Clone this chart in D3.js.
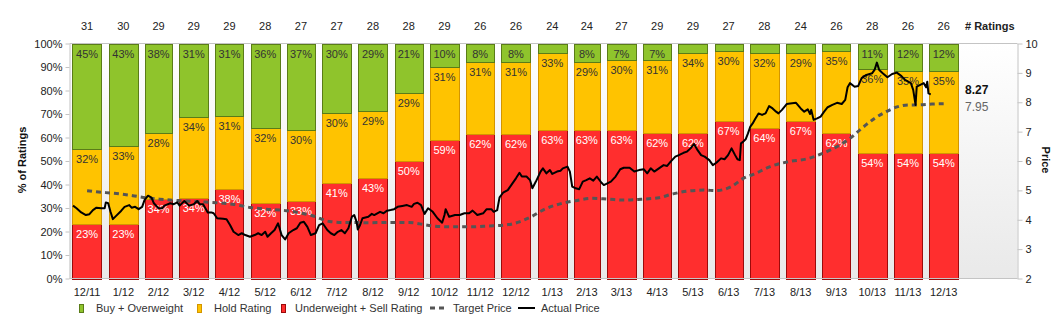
<!DOCTYPE html>
<html lang="en">
<head>
  <meta charset="utf-8">
  <title>Ratings and Price</title>
  <script src="https://d3js.org/d3.v7.min.js"></script>
  <style>
    body { margin: 0; background: #fff; }
    svg text { font-family: "Liberation Sans", Arial, sans-serif; }
  </style>
</head>
<body>
<script>
  // monthly rating breakdown
  var months = ["2011-12", "2012-01", "2012-02", "2012-03", "2012-04", "2012-05", "2012-06", "2012-07",
    "2012-08", "2012-09", "2012-10", "2012-11", "2012-12", "2013-01", "2013-02", "2013-03", "2013-04",
    "2013-05", "2013-06", "2013-07", "2013-08", "2013-09", "2013-10", "2013-11", "2013-12"];
  var monthLabels = ["12/11", "1/12", "2/12", "3/12", "4/12", "5/12", "6/12", "7/12", "8/12", "9/12",
    "10/12", "11/12", "12/12", "1/13", "2/13", "3/13", "4/13", "5/13", "6/13", "7/13", "8/13", "9/13",
    "10/13", "11/13", "12/13"];
  var ratingCounts = [31, 30, 29, 29, 29, 28, 27, 27, 28, 28, 29, 26, 26, 24, 24, 27, 29, 29, 27, 28, 24, 26, 28, 26, 26];
  var buyPct   = [45, 43, 38, 31, 31, 36, 37, 30, 29, 21, 10, 8, 8, 4, 8, 7, 7, 4, 3, 4, 4, 3, 11, 12, 12];
  var holdPct  = [32, 33, 28, 34, 31, 32, 30, 30, 29, 29, 31, 31, 31, 33, 29, 30, 31, 34, 30, 32, 29, 35, 36, 35, 35];
  var underPct = [23, 23, 34, 34, 38, 32, 33, 41, 43, 50, 59, 62, 62, 63, 63, 63, 62, 62, 67, 64, 67, 62, 54, 54, 54];

  // consensus target price
  var targetPrice = [
    ["2011-12-13", 4.99], ["2011-12-21", 4.95], ["2012-01-05", 4.90], ["2012-01-21", 4.82], ["2012-01-30", 4.76],
    ["2012-02-13", 4.70], ["2012-03-01", 4.65], ["2012-03-18", 4.61], ["2012-04-01", 4.58], ["2012-04-15", 4.53],
    ["2012-04-30", 4.42], ["2012-05-14", 4.36], ["2012-05-31", 4.31], ["2012-06-11", 4.24], ["2012-06-23", 4.13],
    ["2012-07-07", 3.94], ["2012-07-18", 3.91], ["2012-07-27", 3.91], ["2012-08-07", 3.90], ["2012-08-30", 3.91],
    ["2012-09-13", 3.91], ["2012-09-22", 3.86], ["2012-10-03", 3.79], ["2012-10-17", 3.76], ["2012-11-03", 3.76],
    ["2012-11-20", 3.79], ["2012-12-04", 3.82], ["2012-12-16", 3.93], ["2012-12-26", 4.10], ["2013-01-05", 4.33],
    ["2013-01-16", 4.50], ["2013-02-02", 4.65], ["2013-02-16", 4.73], ["2013-03-02", 4.70], ["2013-03-16", 4.67],
    ["2013-03-30", 4.70], ["2013-04-14", 4.75], ["2013-04-25", 4.87], ["2013-05-09", 4.98], ["2013-05-24", 5.01],
    ["2013-06-01", 4.99], ["2013-06-15", 5.13], ["2013-06-25", 5.41], ["2013-07-04", 5.55], ["2013-07-18", 5.81],
    ["2013-08-03", 5.98], ["2013-08-20", 6.09], ["2013-08-28", 6.20], ["2013-09-07", 6.37], ["2013-09-24", 6.77],
    ["2013-10-04", 7.11], ["2013-10-15", 7.45], ["2013-10-25", 7.68], ["2013-11-04", 7.85], ["2013-11-13", 7.91],
    ["2013-11-21", 7.91], ["2013-12-03", 7.94], ["2013-12-13", 7.95]
  ];

  // share price (close)
  var actualPrice = [
    ["2011-12-01", 4.48], ["2011-12-04", 4.39], ["2011-12-08", 4.25], ["2011-12-12", 4.16], ["2011-12-15", 4.19],
    ["2011-12-18", 4.33], ["2011-12-21", 4.41], ["2011-12-25", 4.39], ["2011-12-28", 4.39], ["2011-12-29", 4.59],
    ["2011-12-31", 4.56], ["2012-01-02", 4.27], ["2012-01-04", 4.02], ["2012-01-07", 4.14], ["2012-01-11", 4.30],
    ["2012-01-14", 4.44], ["2012-01-18", 4.50], ["2012-01-20", 4.41], ["2012-01-23", 4.44], ["2012-01-26", 4.36],
    ["2012-01-29", 4.44], ["2012-01-31", 4.67], ["2012-02-03", 4.82], ["2012-02-06", 4.75], ["2012-02-08", 4.56],
    ["2012-02-12", 4.39], ["2012-02-15", 4.39], ["2012-02-17", 4.48], ["2012-02-22", 4.56], ["2012-02-25", 4.53],
    ["2012-02-28", 4.59], ["2012-03-01", 4.48], ["2012-03-05", 4.64], ["2012-03-09", 4.48], ["2012-03-13", 4.53],
    ["2012-03-16", 4.64], ["2012-03-18", 4.53], ["2012-03-21", 4.53], ["2012-03-25", 4.25], ["2012-03-28", 4.25],
    ["2012-03-30", 4.22], ["2012-04-02", 4.05], ["2012-04-07", 4.03], ["2012-04-10", 4.02], ["2012-04-13", 3.82],
    ["2012-04-16", 3.59], ["2012-04-20", 3.48], ["2012-04-23", 3.54], ["2012-04-26", 3.48], ["2012-04-30", 3.42],
    ["2012-05-04", 3.48], ["2012-05-07", 3.54], ["2012-05-10", 3.48], ["2012-05-13", 3.59], ["2012-05-15", 3.42],
    ["2012-05-18", 3.54], ["2012-05-21", 3.65], ["2012-05-24", 3.88], ["2012-05-27", 3.48], ["2012-05-30", 3.33],
    ["2012-06-02", 3.54], ["2012-06-06", 3.65], ["2012-06-09", 3.71], ["2012-06-12", 3.90], ["2012-06-15", 3.93],
    ["2012-06-18", 3.76], ["2012-06-21", 3.48], ["2012-06-25", 3.54], ["2012-06-28", 3.82], ["2012-07-01", 3.88],
    ["2012-07-05", 3.65], ["2012-07-08", 3.54], ["2012-07-11", 3.48], ["2012-07-14", 3.59], ["2012-07-17", 3.65],
    ["2012-07-20", 3.54], ["2012-07-23", 3.71], ["2012-07-26", 4.10], ["2012-07-28", 4.16], ["2012-07-30", 3.93],
    ["2012-07-31", 3.67], ["2012-08-02", 3.82], ["2012-08-04", 4.05], ["2012-08-09", 4.10], ["2012-08-12", 4.20],
    ["2012-08-14", 4.16], ["2012-08-19", 4.27], ["2012-08-22", 4.22], ["2012-08-25", 4.31], ["2012-08-28", 4.33],
    ["2012-08-31", 4.36], ["2012-09-03", 4.44], ["2012-09-07", 4.47], ["2012-09-11", 4.50], ["2012-09-15", 4.44],
    ["2012-09-17", 4.54], ["2012-09-20", 4.58], ["2012-09-23", 4.50], ["2012-09-26", 4.20], ["2012-09-29", 4.39],
    ["2012-10-03", 4.27], ["2012-10-07", 4.05], ["2012-10-11", 3.90], ["2012-10-13", 4.16], ["2012-10-14", 4.36],
    ["2012-10-17", 4.10], ["2012-10-22", 4.16], ["2012-10-26", 4.16], ["2012-10-30", 4.22], ["2012-11-03", 4.22],
    ["2012-11-06", 4.31], ["2012-11-10", 4.16], ["2012-11-15", 4.22], ["2012-11-18", 4.36], ["2012-11-22", 4.36],
    ["2012-11-24", 4.27], ["2012-11-27", 4.33], ["2012-11-29", 4.76], ["2012-12-02", 4.92], ["2012-12-06", 5.01],
    ["2012-12-10", 5.24], ["2012-12-13", 5.41], ["2012-12-16", 5.60], ["2012-12-18", 5.47], ["2012-12-22", 5.47],
    ["2012-12-25", 5.35], ["2012-12-27", 5.07], ["2012-12-30", 5.30], ["2013-01-03", 5.64], ["2013-01-05", 5.75],
    ["2013-01-08", 5.58], ["2013-01-11", 5.69], ["2013-01-13", 5.56], ["2013-01-17", 5.64], ["2013-01-20", 5.67],
    ["2013-01-22", 5.75], ["2013-01-26", 5.81], ["2013-01-28", 5.64], ["2013-01-30", 5.13], ["2013-02-02", 5.07],
    ["2013-02-05", 5.04], ["2013-02-08", 5.30], ["2013-02-11", 5.35], ["2013-02-14", 5.41], ["2013-02-17", 5.33],
    ["2013-02-20", 5.47], ["2013-02-24", 5.26], ["2013-02-26", 5.18], ["2013-03-01", 5.24], ["2013-03-04", 5.30],
    ["2013-03-08", 5.47], ["2013-03-12", 5.72], ["2013-03-15", 5.77], ["2013-03-20", 5.77], ["2013-03-24", 5.64],
    ["2013-03-28", 5.69], ["2013-04-01", 5.72], ["2013-04-04", 5.58], ["2013-04-07", 5.75], ["2013-04-10", 5.64],
    ["2013-04-14", 5.75], ["2013-04-18", 5.86], ["2013-04-21", 5.83], ["2013-04-24", 5.98], ["2013-04-28", 6.15],
    ["2013-05-01", 6.20], ["2013-05-05", 6.28], ["2013-05-08", 6.32], ["2013-05-11", 6.43], ["2013-05-14", 6.58],
    ["2013-05-17", 6.37], ["2013-05-20", 6.20], ["2013-05-23", 6.15], ["2013-05-27", 6.03], ["2013-05-30", 5.86],
    ["2013-06-02", 5.94], ["2013-06-06", 6.09], ["2013-06-09", 6.06], ["2013-06-12", 6.20], ["2013-06-15", 6.43],
    ["2013-06-18", 6.20], ["2013-06-20", 6.06], ["2013-06-22", 6.03], ["2013-06-23", 6.60], ["2013-06-25", 6.66],
    ["2013-06-27", 6.74], ["2013-06-29", 6.94], ["2013-07-01", 7.17], ["2013-07-03", 7.28], ["2013-07-05", 7.42],
    ["2013-07-08", 7.62], ["2013-07-11", 7.57], ["2013-07-14", 7.62], ["2013-07-17", 7.87], ["2013-07-20", 7.79],
    ["2013-07-23", 7.68], ["2013-07-25", 7.62], ["2013-07-28", 7.74], ["2013-08-01", 7.94], ["2013-08-04", 7.96],
    ["2013-08-09", 7.98], ["2013-08-13", 7.79], ["2013-08-16", 7.68], ["2013-08-19", 7.76], ["2013-08-21", 7.60],
    ["2013-08-22", 7.74], ["2013-08-24", 7.40], ["2013-08-27", 7.45], ["2013-08-30", 7.51], ["2013-09-02", 7.68],
    ["2013-09-05", 7.83], ["2013-09-09", 7.91], ["2013-09-13", 7.98], ["2013-09-17", 7.94], ["2013-09-20", 8.08],
    ["2013-09-22", 8.51], ["2013-09-24", 8.65], ["2013-09-28", 8.53], ["2013-10-01", 8.55], ["2013-10-04", 8.82],
    ["2013-10-08", 8.93], ["2013-10-13", 8.99], ["2013-10-15", 9.10], ["2013-10-17", 9.35], ["2013-10-19", 9.10],
    ["2013-10-22", 8.99], ["2013-10-26", 8.85], ["2013-10-30", 8.96], ["2013-11-03", 9.01], ["2013-11-07", 8.89],
    ["2013-11-10", 8.76], ["2013-11-15", 8.65], ["2013-11-17", 8.42], ["2013-11-19", 7.91], ["2013-11-20", 8.53],
    ["2013-11-23", 8.59], ["2013-11-26", 8.65], ["2013-11-28", 8.51], ["2013-11-29", 8.70], ["2013-11-30", 8.30],
    ["2013-12-02", 8.27]
  ];

  var pctTicks = [0, 0.1, 0.2, 0.3, 0.4, 0.5, 0.6, 0.7, 0.8, 0.9, 1];
  var priceTicks = [2, 3, 4, 5, 6, 7, 8, 9, 10];

  var W = 1062, H = 329;
  var plotLeft = 69.5, plotRight = 1017.5, plotTop = 43.5, plotBottom = 278.5;

  var parseMonth = d3.timeParse("%Y-%m");
  var parseDay = d3.timeParse("%Y-%m-%d");

  var colors = { buy: "#8fc42c", hold: "#ffc300", under: "#ff2e2e" };
  var strokes = { buy: "#5a7c18", hold: "#d39500", under: "#9c0a0a" };

  var rows = months.map(function (m, i) {
    return {
      date: parseMonth(m), label: monthLabels[i], count: ratingCounts[i],
      under: underPct[i], hold: holdPct[i], buy: buyPct[i]
    };
  });

  var x = d3.scaleTime()
    .domain([parseDay("2011-11-28"), parseDay("2014-02-14")])
    .range([plotLeft, plotRight]);
  var yPct = d3.scaleLinear().domain([0, 1]).range([plotBottom, plotTop]);
  var yPrice = d3.scaleLinear().domain([2, 10]).range([plotBottom, plotTop]);

  var svg = d3.select("body").append("svg")
    .attr("width", W)
    .attr("height", H)
    .style("display", "block");

  var defs = svg.append("defs");
  var grad = defs.append("linearGradient")
    .attr("id", "plotBg")
    .attr("x1", 0).attr("y1", 0).attr("x2", 0).attr("y2", 1);
  grad.append("stop").attr("offset", "0%").attr("stop-color", "#ffffff");
  grad.append("stop").attr("offset", "100%").attr("stop-color", "#e9e9e9");

  svg.append("rect")
    .attr("x", plotLeft).attr("y", plotTop)
    .attr("width", plotRight - plotLeft).attr("height", plotBottom - plotTop)
    .attr("fill", "url(#plotBg)");

  // bar extent: from month start to a few days before the next month
  function barX0(d) { return x(d.date) - 0.6; }
  function barX1(d) { return x(d3.timeDay.offset(d3.timeMonth.offset(d.date, 1), -6)) - 0.6; }
  function barMid(d) { return (barX0(d) + barX1(d)) / 2; }

  var keys = ["under", "hold", "buy"];
  var stacked = d3.stack().keys(keys).offset(d3.stackOffsetExpand)(rows);

  var layers = svg.append("g").selectAll("g")
    .data(stacked)
    .enter().append("g")
    .attr("fill", function (s) { return colors[s.key]; })
    .attr("stroke", function (s) { return strokes[s.key]; });

  layers.selectAll("rect")
    .data(function (s) { return s; })
    .enter().append("rect")
    .attr("x", function (d) { return Math.round(barX0(d.data)) + 0.5; })
    .attr("y", function (d) { return Math.round(yPct(d[1])) + 0.5; })
    .attr("width", function (d) { return Math.round(barX1(d.data) - barX0(d.data)); })
    .attr("height", function (d) { return Math.round(yPct(d[0])) - Math.round(yPct(d[1])); })
    .attr("stroke-width", 1);

  // percentage labels at the top of each segment
  var segLabels = svg.append("g").attr("font-size", "11px").attr("text-anchor", "middle");
  stacked.forEach(function (s) {
    segLabels.selectAll(null)
      .data(s.filter(function (d) { return d.data[s.key] >= 5; }))
      .enter().append("text")
      .attr("x", function (d) { return barMid(d.data); })
      .attr("y", function (d) { return yPct(d[1]) + 14; })
      .attr("fill", s.key === "under" ? "#ffffff" : "#333333")
      .text(function (d) { return d.data[s.key] + "%"; });
  });

  // target price (dashed) and actual price
  var targetLine = d3.line()
    .x(function (d) { return x(parseDay(d[0])); })
    .y(function (d) { return yPrice(d[1]); })
    .curve(d3.curveMonotoneX);

  svg.append("path")
    .datum(targetPrice)
    .attr("d", targetLine)
    .attr("fill", "none")
    .attr("stroke", "#555555")
    .attr("stroke-width", 3)
    .attr("stroke-dasharray", "5,4");

  var priceLine = d3.line()
    .x(function (d) { return x(parseDay(d[0])); })
    .y(function (d) { return yPrice(d[1]); });

  svg.append("path")
    .datum(actualPrice)
    .attr("d", priceLine)
    .attr("fill", "none")
    .attr("stroke", "#000000")
    .attr("stroke-width", 2)
    .attr("stroke-linejoin", "round");

  // last values next to the lines
  var lastPrice = actualPrice[actualPrice.length - 1][1];
  var lastTarget = targetPrice[targetPrice.length - 1][1];
  svg.append("text")
    .attr("x", 965).attr("y", yPrice(lastPrice))
    .attr("font-size", "12px").attr("font-weight", "bold").attr("fill", "#111")
    .text(lastPrice.toFixed(2));
  svg.append("text")
    .attr("x", 965).attr("y", yPrice(lastTarget) + 7)
    .attr("font-size", "12px").attr("fill", "#666")
    .text(lastTarget.toFixed(2));

  // frame and axes
  svg.append("line")
    .attr("x1", plotLeft).attr("x2", plotRight).attr("y1", plotTop).attr("y2", plotTop)
    .attr("stroke", "#c4c4c4");
  svg.append("line")
    .attr("x1", plotLeft).attr("x2", plotRight).attr("y1", plotBottom).attr("y2", plotBottom)
    .attr("stroke", "#c4c4c4");

  var yAxisLeft = svg.append("g")
    .attr("transform", "translate(" + plotLeft + ",0)")
    .call(d3.axisLeft(yPct).tickValues(pctTicks).tickFormat(d3.format(".0%"))
      .tickSize(4).tickSizeOuter(0).tickPadding(3));

  var yAxisRight = svg.append("g")
    .attr("transform", "translate(" + plotRight + ",0)")
    .call(d3.axisRight(yPrice).tickValues(priceTicks).tickFormat(d3.format("d"))
      .tickSize(5).tickSizeOuter(0).tickPadding(3));

  [yAxisLeft, yAxisRight].forEach(function (g) {
    g.select(".domain").attr("stroke", "#c4c4c4");
    g.selectAll(".tick line").attr("stroke", "#c4c4c4");
    g.selectAll(".tick text")
      .attr("fill", "#222")
      .attr("font-size", "11px")
      .attr("font-family", "'Liberation Sans', Arial, sans-serif");
  });

  // month labels under the bars, rating counts above
  svg.append("g").selectAll("text")
    .data(rows)
    .enter().append("text")
    .attr("x", barMid)
    .attr("y", 296)
    .attr("text-anchor", "middle")
    .attr("font-size", "11px")
    .attr("fill", "#222")
    .text(function (d) { return d.label; });

  svg.append("g").selectAll("text")
    .data(rows)
    .enter().append("text")
    .attr("x", barMid)
    .attr("y", 30)
    .attr("text-anchor", "middle")
    .attr("font-size", "11px")
    .attr("fill", "#222")
    .text(function (d) { return d.count; });

  svg.append("text")
    .attr("x", 965).attr("y", 30)
    .attr("font-size", "11px").attr("font-weight", "bold").attr("fill", "#222")
    .text("# Ratings");

  svg.append("text")
    .attr("transform", "translate(26,160) rotate(-90)")
    .attr("text-anchor", "middle")
    .attr("font-size", "11px").attr("font-weight", "bold").attr("fill", "#111")
    .text("% of Ratings");

  svg.append("text")
    .attr("transform", "translate(1042,160) rotate(90)")
    .attr("text-anchor", "middle")
    .attr("font-size", "11px").attr("font-weight", "bold").attr("fill", "#111")
    .text("Price");

  // legend
  var legend = svg.append("g").attr("font-size", "11px").attr("fill", "#333");
  var boxItems = [
    { key: "buy", text: "Buy + Overweight", x: 79, tx: 96 },
    { key: "hold", text: "Hold Rating", x: 197, tx: 214 },
    { key: "under", text: "Underweight + Sell Rating", x: 281, tx: 295 }
  ];
  boxItems.forEach(function (it) {
    legend.append("rect")
      .attr("x", it.x + 0.5).attr("y", 304.5)
      .attr("width", 4).attr("height", 8)
      .attr("fill", colors[it.key]).attr("stroke", strokes[it.key]);
    legend.append("text")
      .attr("x", it.tx).attr("y", 312)
      .text(it.text);
  });
  legend.append("line")
    .attr("x1", 430).attr("x2", 447).attr("y1", 308).attr("y2", 308)
    .attr("stroke", "#555").attr("stroke-width", 3).attr("stroke-dasharray", "5,4");
  legend.append("text").attr("x", 453).attr("y", 312).text("Target Price");
  legend.append("line")
    .attr("x1", 518).attr("x2", 535).attr("y1", 308).attr("y2", 308)
    .attr("stroke", "#000").attr("stroke-width", 2);
  legend.append("text").attr("x", 541).attr("y", 312).text("Actual Price");
</script>
</body>
</html>
